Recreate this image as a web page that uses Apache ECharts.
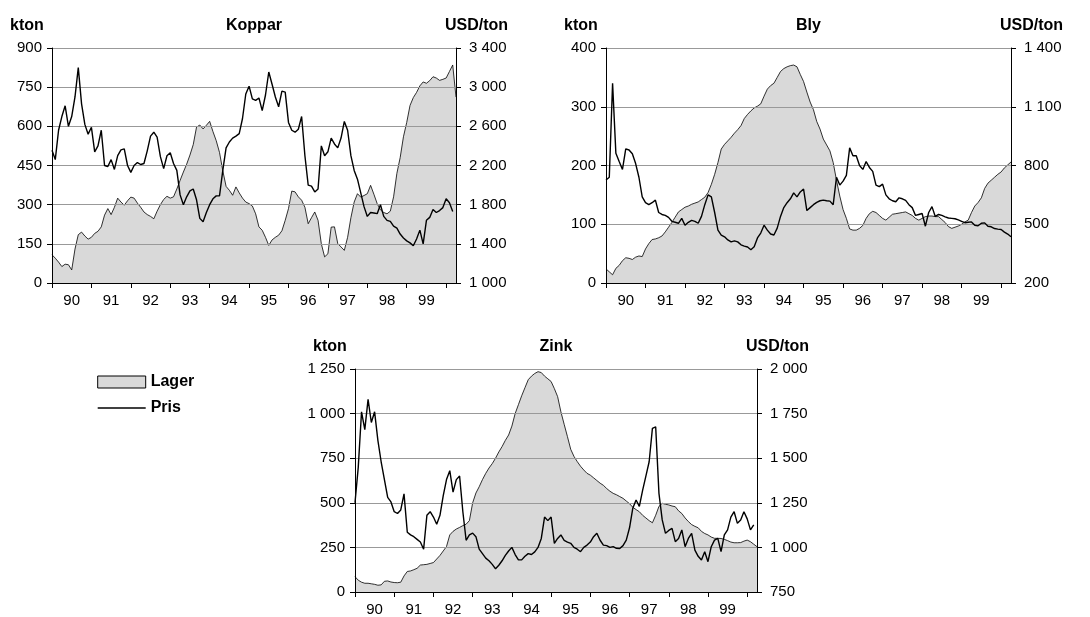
<!DOCTYPE html>
<html>
<head>
<meta charset="utf-8">
<title>Koppar, Bly, Zink</title>
<script src="https://cdn.jsdelivr.net/npm/echarts@6/dist/echarts.min.js"></script>
<style>
  html, body { margin: 0; padding: 0; background: #fff; }
  #chart { width: 1090px; height: 617px; }
</style>
</head>
<body>
<div id="chart"></div>
<script>
// year labels, one month per category from jan 1990 to apr 2000
var years = ['90', '91', '92', '93', '94', '95', '96', '97', '98', '99'];
var months = [];
for (var i = 0; i < 124; i++) {
  months.push((1990 + Math.floor(i / 12)) + '-' + (i % 12 + 1));
}

// Koppar: lager (kton), pris (USD/ton)
var kopparLager = [108,95,80,63,72,70,50,130,185,195,180,168,
  175,190,198,215,260,285,262,290,325,310,298,315,
  329,325,306,290,272,262,255,246,275,300,320,332,
  325,330,360,393,425,455,490,530,597,605,590,604,
  619,580,545,500,430,370,355,336,368,345,325,310,
  304,295,265,215,202,175,144,165,175,183,200,240,
  285,352,349,330,317,290,227,250,272,240,150,100,
  112,214,215,151,138,125,175,250,310,342,329,335,
  342,374,340,304,280,270,265,275,330,420,480,560,
  615,680,710,730,755,770,765,775,790,785,776,780,
  785,810,835,712];
var kopparPris = [2355,2260,2560,2700,2810,2600,2700,2900,3200,2830,2620,2520,
  2590,2340,2400,2560,2200,2190,2260,2160,2300,2360,2370,2200,
  2130,2200,2230,2210,2220,2350,2500,2540,2490,2290,2168,2300,
  2330,2220,2150,1900,1800,1880,1940,1960,1850,1660,1625,1720,
  1800,1860,1890,1890,2150,2380,2440,2480,2500,2525,2680,2930,
  3010,2880,2865,2890,2760,2920,3155,3030,2900,2800,2960,2950,
  2640,2560,2540,2570,2700,2300,2000,1990,1930,1960,2400,2300,
  2340,2480,2420,2380,2480,2650,2560,2300,2150,2060,1920,1780,
  1680,1720,1715,1708,1800,1680,1640,1630,1580,1560,1500,1460,
  1430,1410,1380,1450,1540,1400,1640,1670,1750,1720,1740,1770,
  1860,1820,1730,null];

// Bly
var blyLager = [24,19,14,25,30,38,43,42,40,44,46,45,
  58,67,74,75,77,80,87,95,103,112,121,125,
  129,131,134,136,138,142,146,154,168,185,205,228,
  236,242,248,255,261,268,280,287,293,298,301,305,
  318,330,336,340,350,360,365,368,370,371,368,355,
  343,325,308,295,275,262,245,235,225,205,175,148,
  125,110,92,90,90,93,98,110,118,122,120,115,
  110,107,112,117,118,119,120,121,118,115,110,107,
  110,113,114,114,113,113,108,103,96,93,95,97,
  100,104,107,120,131,137,145,161,170,175,180,185,
  189,196,201,206];
var blyPris = [726,740,1220,862,820,780,885,879,860,810,740,640,
  610,600,610,623,560,550,545,535,515,510,505,530,
  495,510,520,515,505,540,600,650,640,560,470,445,
  436,420,410,415,410,395,388,384,370,385,430,455,
  495,470,450,445,480,540,585,610,630,660,640,665,
  680,570,585,600,612,620,623,620,618,600,740,700,
  720,750,890,850,850,800,780,820,790,770,700,692,
  705,650,630,620,615,635,630,622,600,585,545,550,
  555,490,560,590,540,550,545,538,532,530,528,522,
  515,508,510,512,495,492,505,507,490,487,478,475,
  473,460,450,436];

// Zink
var zinkLager = [86,66,55,49,49,46,43,38,40,60,62,56,
  53,52,55,90,115,118,125,133,151,153,155,160,
  165,185,205,230,255,320,340,353,362,372,380,400,
  500,555,590,630,665,695,720,750,785,815,850,880,
  930,1000,1050,1100,1145,1190,1210,1225,1235,1230,1210,1195,
  1180,1140,1095,1010,940,871,800,760,731,705,684,665,
  655,640,625,610,598,580,565,553,545,535,525,510,
  495,475,462,450,430,415,400,388,430,480,497,492,
  488,482,478,455,440,415,395,378,368,360,340,328,
  320,308,301,301,300,295,288,280,276,276,277,285,
  291,282,268,254];
var zinkPris = [1250,1450,1760,1660,1830,1700,1760,1600,1480,1380,1280,1255,
  1200,1190,1210,1300,1085,1070,1060,1045,1030,990,1180,1200,
  1170,1130,1180,1290,1380,1430,1310,1380,1400,1200,1040,1070,
  1080,1060,990,965,940,925,905,880,900,925,955,980,
  1000,960,930,930,950,965,960,975,1000,1050,1170,1150,
  1170,1023,1050,1070,1040,1030,1023,1000,990,976,1000,1013,
  1030,1060,1079,1040,1013,1010,1000,1004,995,994,1010,1041,
  1110,1220,1266,1230,1320,1400,1480,1667,1676,1303,1154,1079,
  1095,1107,1032,1050,1098,1004,1050,1079,985,950,929,976,
  920,1004,1041,1051,976,1070,1098,1170,1200,1135,1154,1200,
  1160,1098,1126,null];

var FONT = 'Liberation Sans, Arial, sans-serif';

function fmt(v) {
  return String(v).replace(/\B(?=(\d{3})+(?!\d))/g, ' ');
}

var panels = [
  { title: 'Koppar', grid: { left: 52, top: 48, width: 404, height: 235 },
    kton: [0, 900, 150], usd: [1000, 3400, 400], lager: kopparLager, pris: kopparPris },
  { title: 'Bly', grid: { left: 606, top: 48, width: 405, height: 235 },
    kton: [0, 400, 100], usd: [200, 1400, 300], lager: blyLager, pris: blyPris },
  { title: 'Zink', grid: { left: 355, top: 369, width: 402, height: 223 },
    kton: [0, 1250, 250], usd: [750, 2000, 250], lager: zinkLager, pris: zinkPris }
];

var grids = [], xAxes = [], yAxes = [], series = [], texts = [];

panels.forEach(function (p, g) {
  grids.push(p.grid);
  xAxes.push({
    gridIndex: g,
    type: 'category',
    data: months,
    boundaryGap: false,
    z: 2,
    axisLine: { lineStyle: { color: '#000', width: 1 } },
    axisTick: {
      interval: function (idx) { return idx % 12 === 0; },
      length: 5,
      lineStyle: { color: '#000' }
    },
    axisLabel: {
      interval: function (idx) { return idx % 12 === 6; },
      formatter: function (v, idx) { return years[Math.floor(idx / 12)]; },
      color: '#000', fontSize: 15, fontFamily: FONT, margin: 10
    },
    splitLine: { show: false }
  });
  // left axis: lager
  yAxes.push({
    gridIndex: g, type: 'value', position: 'left', z: 2,
    min: p.kton[0], max: p.kton[1], interval: p.kton[2],
    axisLine: { show: true, lineStyle: { color: '#000' } },
    axisTick: { show: true, length: 5, lineStyle: { color: '#000' } },
    axisLabel: { formatter: fmt, color: '#000', fontSize: 15, fontFamily: FONT, margin: 10 },
    splitLine: { show: true, lineStyle: { color: '#999', width: 1 } }
  });
  // right axis: pris
  yAxes.push({
    gridIndex: g, type: 'value', position: 'right', z: 2,
    min: p.usd[0], max: p.usd[1], interval: p.usd[2],
    axisLine: { show: true, lineStyle: { color: '#000' } },
    axisTick: { show: true, length: 5, lineStyle: { color: '#000' } },
    axisLabel: { formatter: fmt, color: '#000', fontSize: 15, fontFamily: FONT, margin: 13 },
    splitLine: { show: false }
  });
  series.push({
    name: 'Lager', type: 'line', xAxisIndex: g, yAxisIndex: g * 2,
    data: p.lager, symbol: 'none', z: 1,
    lineStyle: { color: '#000', width: 0.8 },
    itemStyle: { color: '#d9d9d9' },
    areaStyle: { color: '#d9d9d9', opacity: 1 }
  });
  series.push({
    name: 'Pris', type: 'line', xAxisIndex: g, yAxisIndex: g * 2 + 1,
    data: p.pris, symbol: 'none', z: 3,
    lineStyle: { color: '#000', width: 1.4 },
    itemStyle: { color: '#000' }
  });

  var right = p.grid.left + p.grid.width;
  var ty = p.grid.top - 22;
  texts.push({ type: 'text', x: p.grid.left - 42, y: ty,
    style: { text: 'kton', font: 'bold 16px ' + FONT, fill: '#000', align: 'left', verticalAlign: 'middle' } });
  texts.push({ type: 'text', x: p.grid.left + p.grid.width / 2, y: ty,
    style: { text: p.title, font: 'bold 16px ' + FONT, fill: '#000', align: 'center', verticalAlign: 'middle' } });
  texts.push({ type: 'text', x: right + 52, y: ty,
    style: { text: 'USD/ton', font: 'bold 16px ' + FONT, fill: '#000', align: 'right', verticalAlign: 'middle' } });
});

var chart = echarts.init(document.getElementById('chart'));
chart.setOption({
  animation: false,
  backgroundColor: '#fff',
  grid: grids,
  xAxis: xAxes,
  yAxis: yAxes,
  series: series,
  legend: {
    left: 97, top: 374, orient: 'vertical',
    itemWidth: 48, itemHeight: 12, itemGap: 10, padding: 0,
    selectedMode: false,
    textStyle: { color: '#000', fontWeight: 'bold', fontSize: 16, fontFamily: FONT },
    data: [
      { name: 'Lager', icon: 'rect', itemStyle: { color: '#d9d9d9', borderColor: '#000', borderWidth: 1 } },
      { name: 'Pris', itemStyle: { opacity: 0 }, lineStyle: { color: '#000', width: 1.4 } }
    ]
  },
  graphic: texts
});
</script>
</body>
</html>
